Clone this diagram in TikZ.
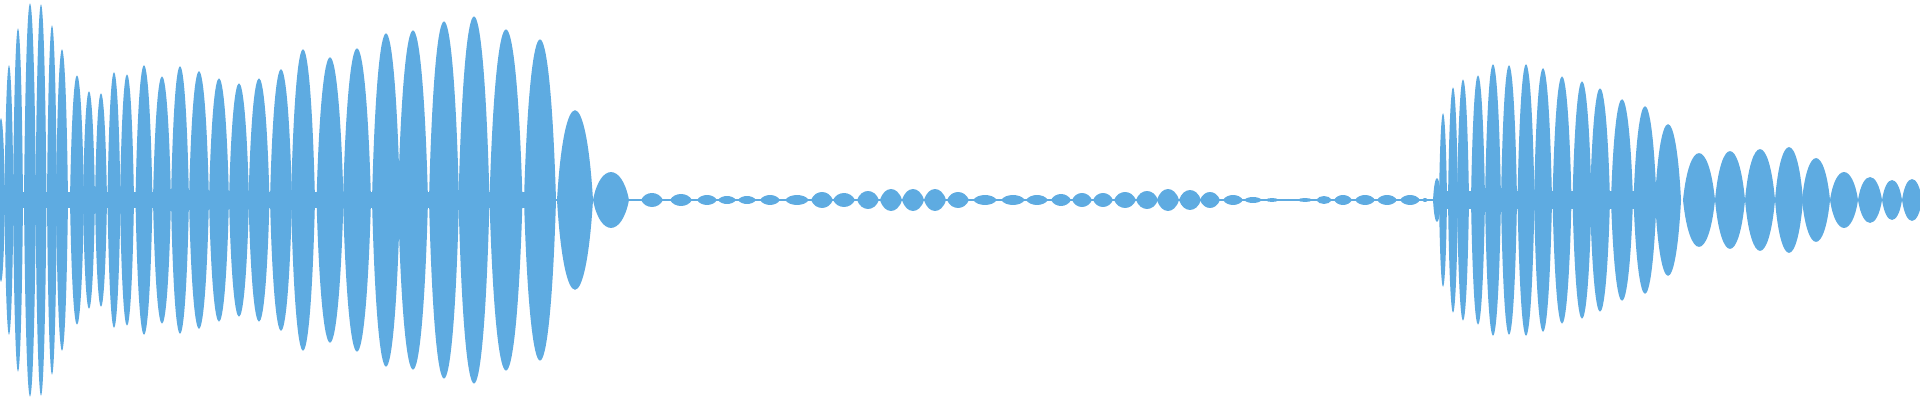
\documentclass[tikz,border=0pt]{standalone}
\usepackage{xcolor}
\definecolor{W1}{RGB}{94,171,225}
\newcommand{\lobe}[3]{\fill[W1] (#1-#2,200) .. controls (#1-0.6*#2,200-1.33*#3) and (#1+0.6*#2,200-1.33*#3) .. (#1+#2,200) .. controls (#1+0.6*#2,200+1.33*#3) and (#1-0.6*#2,200+1.33*#3) .. cycle;}
\begin{document}
\begin{tikzpicture}[x=0.5pt,y=-0.5pt]
      \useasboundingbox (0,0) rectangle (1920,400);
      % carrier bands
      \fill[W1] (0,192) rectangle (556,208);
      \fill[W1] (556,199) rectangle (1437,201);
      \fill[W1] (1437,191) rectangle (1668,209);
      % first burst
      \foreach \c/\w/\a in {1/4/82, 9/4.5/135, 18/5/172, 30/6/197, 41/5.5/196, 52/5/175,
          62/6/151, 77/7/125, 89/6/109, 101/6/107, 114/6.5/128, 127/7/126, 144/8.5/135,
          162/9/124, 180/9/134, 199/10/129, 219/10/122, 239/10/117, 259/10.5/122,
          281/11/131, 303/12/151, 330/13.5/143, 357/14/152, 386/14/167, 413/15/170,
          444/15/179, 474/15.5/184, 506/16.5/171, 540/16/161, 575/18/90, 611/18/28}
        {\lobe{\c}{\w}{\a}}
      % quiet part
      \foreach \c/\w/\a in {652/11/7, 681/11/6, 707/10/5, 727/9/4, 747/9/4, 770/10/5,
          797/12/5, 822/11/8, 844/11/7, 868/11/9, 891/11/11, 913/11/11, 935/11/11,
          958/11/8, 985/12/5, 1013/12/5, 1037/11/5, 1061/10/6, 1082/10/7, 1103/10/7,
          1125/11/8, 1147/11/9, 1168/11/11, 1190/11/10, 1210/10/8, 1233/10/5, 1253/9/3,
          1272/7/2, 1288/7/1, 1305/8/2, 1324/8/4, 1343/9/5, 1365/10/5, 1387/10/5,
          1410/10/5, 1425/3/2}
        {\lobe{\c}{\w}{\a}}
      % second burst
      \foreach \c/\w/\a in {1437/4/22, 1443/4/87, 1453/5/113, 1463/6/121, 1478/7/125,
          1493/8/136, 1509/8/135, 1526/8.5/136, 1543/9/132, 1562/9.5/124, 1582/9.5/119,
          1600/10/112, 1622/11/101, 1645/11.5/94, 1668/13/76, 1699/16/47, 1730/15/49,
          1760/15/51, 1789/14/53, 1816/14/42, 1844/14/28, 1870/12/23, 1892/10/20, 1912/10/21}
        {\lobe{\c}{\w}{\a}}
    \end{tikzpicture}
\end{document}
